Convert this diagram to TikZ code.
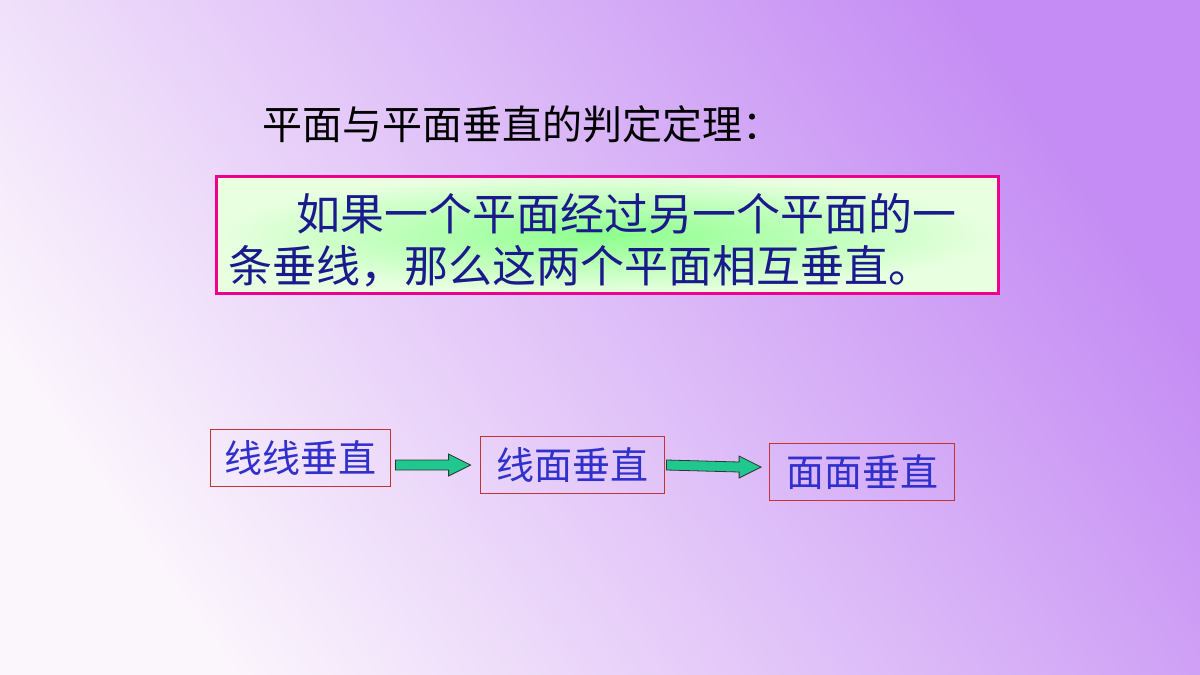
\documentclass[tikz,border=0pt]{standalone}
\usepackage{fontspec}
\newfontfamily\cjk{Noto Sans CJK SC}
\usetikzlibrary{calc}
\definecolor{bt}{HTML}{3030CC}
\definecolor{ttxt}{HTML}{1A1A8C}
\definecolor{agreen}{HTML}{20C890}
\definecolor{bgtop}{HTML}{C48CF4}
\definecolor{bgbot}{HTML}{FBF5FC}
\tikzset{
 lbox/.style={draw=red!70!black!80, line width=0.8pt, inner sep=2pt, text=bt, font=\cjk\fontsize{38}{38}\selectfont, minimum height=57pt},
 barrow/.style={fill=agreen, draw=black!80, line width=0.8pt}
}
\begin{document}
\begin{tikzpicture}[x=1pt,y=-1pt]
\useasboundingbox (0,0) rectangle (1200,675);
\shade[shading=axis, top color=bgtop, bottom color=bgbot, shading angle=-55] (0,0) rectangle (1200,675);
\node[anchor=west, font=\cjk\fontsize{40}{40}\selectfont, inner sep=0pt] (title) at (262,124) {平面与平面垂直的判定定理：};
\shade[inner color=green!45!white, outer color=yellow!25!green!12!white] (216,176) rectangle (998,293);
\draw[draw=magenta, line width=3pt] (216,176) rectangle (998,293);
\node[anchor=west, text=ttxt, font=\cjk\fontsize{44}{44}\selectfont, inner sep=0pt] (l1) at (296,214) {如果一个平面经过另一个平面的一};
\node[anchor=west, text=ttxt, font=\cjk\fontsize{44}{44}\selectfont, inner sep=0pt] (l2) at (228,266) {条垂线，那么这两个平面相互垂直。};
\node[lbox, minimum width=180pt] (a) at (300,458) {线线垂直};
\node[lbox, minimum width=184pt] (b) at (572,465) {线面垂直};
\node[lbox, minimum width=185pt] (c) at (862,472) {面面垂直};
\draw[barrow] ($(a.east|-b.west)+(5,-5)$) -- ($(b.west)+(-31,-5)$) -- ($(b.west)+(-31,-11)$) -- ($(b.west)+(-9,0)$) -- ($(b.west)+(-31,11)$) -- ($(b.west)+(-31,5)$) -- ($(a.east|-b.west)+(5,5)$) -- cycle;
\draw[barrow] ($(b.east)+(2,-5)$) -- ($(c.west)+(-30,-10)$) -- ($(c.west)+(-30,-16)$) -- ($(c.west)+(-8,-5)$) -- ($(c.west)+(-30,6)$) -- ($(c.west)+(-30,0)$) -- ($(b.east)+(2,5)$) -- cycle;
\end{tikzpicture}
\end{document}
